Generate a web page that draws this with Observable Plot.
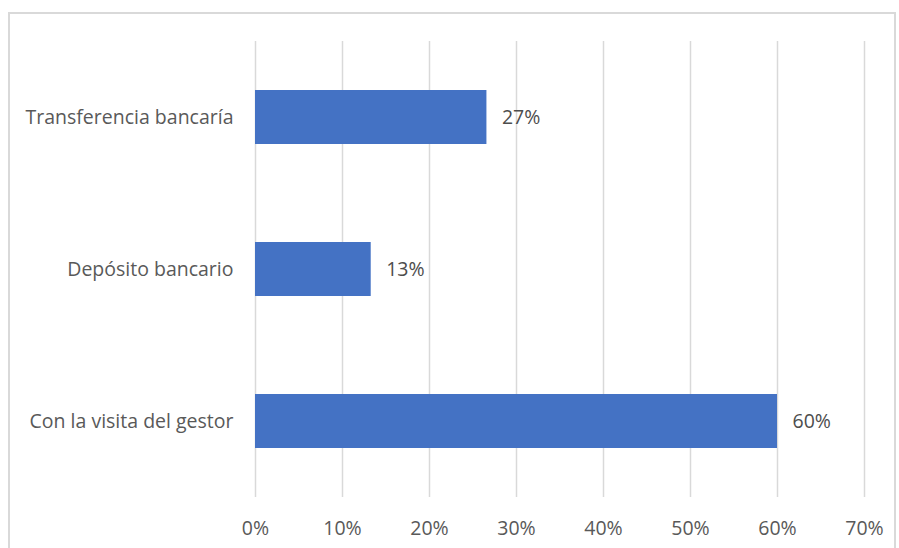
<!DOCTYPE html>
<html>
<head>
<meta charset="utf-8">
<script src="https://cdn.jsdelivr.net/npm/d3@7"></script>
<script src="https://cdn.jsdelivr.net/npm/@observablehq/plot@0.6"></script>
<style>
  html, body { margin: 0; padding: 0; background: #fff; overflow: hidden; }
  #wrap { position: relative; width: 899px; height: 548px; }
  #frame { position: absolute; left: 8px; top: 12px; width: 888px; height: 560px; border: 2px solid #d9d9d9; box-sizing: border-box; }
  #chart { position: absolute; left: 0; top: 0; }
</style>
</head>
<body>
<div id="wrap"><div id="frame"></div><div id="chart"></div></div>
<script>
const categories = ["Transferencia bancaría", "Depósito bancario", "Con la visita del gestor"];
const values = [0.266, 0.133, 0.60];
const valueLabels = ["27%", "13%", "60%"];
const xTicks = [0, 0.1, 0.2, 0.3, 0.4, 0.5, 0.6, 0.7];

const data = categories.map((c, i) => ({cat: c, v: values[i], label: valueLabels[i]}));
const font = "'Open Sans', sans-serif";
const fs = 19.5;

const chart = Plot.plot({
  width: 899,
  height: 548,
  marginLeft: 255,
  marginRight: 35,
  marginTop: 41,
  marginBottom: 51,
  style: {fontFamily: font, fontSize: fs + "px", color: "#595959", background: "transparent"},
  x: {domain: [0, 0.7], ticks: xTicks, tickFormat: d => Math.round(d * 100) + "%", tickSize: 0, tickPadding: 24, label: null},
  y: {domain: categories, padding: 0, tickSize: 0, tickPadding: 22, label: null},
  marks: [
    Plot.gridX(xTicks, {stroke: "#d9d9d9", strokeOpacity: 1, strokeWidth: 1.5}),
    Plot.barX(data, {x: "v", y: "cat", fill: "#4472c4", insetTop: 49, insetBottom: 49}),
    Plot.text(data, {x: "v", y: "cat", text: "label", textAnchor: "start", dx: 15, fill: "#4d4d4d", fontSize: fs}),
    Plot.axisX({ticks: xTicks, tickFormat: d => Math.round(d * 100) + "%", tickSize: 0, tickPadding: 24, fill: "#595959", fontSize: fs}),
    Plot.axisY({tickSize: 0, tickPadding: 22, fill: "#595959", fontSize: fs})
  ]
});
document.getElementById("chart").appendChild(chart);
</script>
</body>
</html>
